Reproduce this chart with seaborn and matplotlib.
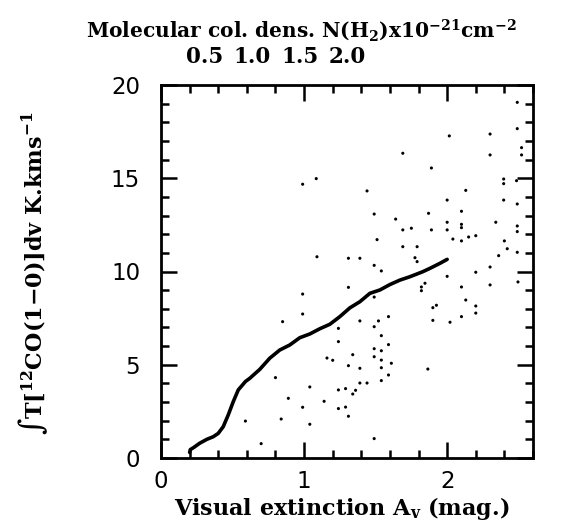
import matplotlib
matplotlib.use("Agg")
import matplotlib.pyplot as plt
import pandas as pd
import seaborn as sns
from matplotlib.ticker import MultipleLocator, NullLocator

# ---- data ----
av_points = [0.99, 1.085, 1.44, 1.09, 1.31, 1.39, 2.49, 2.015, 2.30, 2.49,
             1.69, 2.30, 2.52, 2.52, 1.89, 2.395, 2.395, 2.485, 2.13, 2.00,
             2.395, 2.49, 1.49, 1.64, 1.87, 2.10, 2.00, 2.34, 2.49, 2.49,
             1.69, 1.75, 1.89, 2.00, 2.10, 2.10, 2.04, 2.10, 2.15, 2.20,
             1.51, 2.40, 2.42, 1.69, 1.79, 2.36, 2.49, 1.775, 1.79, 1.49,
             1.54, 2.00, 2.20, 2.30, 2.495, 2.30, 1.845, 1.82, 1.82, 2.10,
             2.13, 2.20, 2.20, 1.90, 1.925, 2.10, 1.90, 2.02, 1.865, 1.49,
             1.39, 1.52, 1.59, 1.49, 1.54, 1.49, 1.54, 1.59, 1.49, 1.54,
             1.61, 1.39, 1.54, 1.59, 1.34, 1.39, 1.44, 1.54, 1.34, 1.36,
             1.49, 0.99, 0.99, 0.85, 1.24, 1.24, 1.16, 1.20, 1.31, 1.29,
             1.24, 1.14, 1.04, 0.89, 0.80, 0.99, 1.24, 1.29, 1.31, 1.04,
             0.84, 0.70, 1.31, 0.59]
co_points = [14.68, 14.98, 14.32, 10.79, 10.71, 10.71, 19.07, 17.27, 17.37, 17.66,
             16.34, 16.25, 16.64, 16.25, 15.55, 14.96, 14.71, 14.87, 14.35, 13.83,
             13.83, 13.62, 13.08, 12.81, 13.12, 13.23, 12.64, 12.64, 12.44, 12.14,
             12.23, 12.32, 12.23, 12.23, 12.53, 12.35, 11.74, 11.64, 11.85, 11.92,
             11.71, 11.64, 11.22, 11.33, 11.33, 10.85, 11.03, 10.74, 10.53, 10.33,
             10.03, 9.74, 9.96, 10.24, 9.44, 9.28, 9.37, 9.17, 8.97, 9.17,
             8.47, 8.15, 7.77, 8.06, 8.19, 7.58, 7.38, 7.28, 4.77, 8.63,
             7.35, 7.35, 7.58, 7.04, 6.56, 5.86, 5.75, 6.08, 5.43, 5.25,
             5.08, 4.81, 4.84, 4.45, 5.54, 4.02, 4.02, 4.15, 3.43, 3.63,
             1.04, 8.79, 7.72, 7.31, 6.95, 6.24, 5.36, 5.24, 4.95, 3.72,
             3.65, 3.04, 3.81, 3.20, 4.31, 2.72, 2.65, 2.73, 2.24, 1.81,
             2.09, 0.77, 9.15, 1.98]

av_curve = [0.20, 0.205, 0.23, 0.27, 0.32, 0.365, 0.40, 0.435, 0.47, 0.505,
            0.54, 0.59, 0.62, 0.69, 0.76, 0.83, 0.90, 0.97, 1.04, 1.11,
            1.18, 1.25, 1.32, 1.39, 1.46, 1.53, 1.60, 1.67, 1.74, 1.83,
            1.88, 1.95, 2.00]
co_curve = [0.30, 0.45, 0.57, 0.79, 1.00, 1.14, 1.32, 1.68, 2.31, 3.02,
            3.65, 4.10, 4.27, 4.75, 5.35, 5.79, 6.06, 6.45, 6.65, 6.93,
            7.17, 7.58, 8.05, 8.38, 8.83, 9.01, 9.30, 9.54, 9.72, 9.99,
            10.17, 10.44, 10.65]

x_ticks = [0, 1, 2]
y_ticks = [0, 5, 10, 15, 20]
top_ticks = [0.5, 1.0, 1.5, 2.0]
top_labels = ["0.5", "1.0", "1.5", "2.0"]

title_top = "Molecular col. dens. N(H$_2$)x10$^{-21}$cm$^{-2}$"
x_label = "Visual extinction A$_v$ (mag.)"
y_label = "\u222bT[$^{12}$CO(1\u22120)]dv K.kms$^{-1}$"

# ---- style ----
sns.set_style("ticks")
plt.rcParams['font.family'] = ['DejaVu Sans']
plt.rcParams['mathtext.fontset'] = 'dejavuserif'
plt.rcParams['mathtext.default'] = 'bf'
plt.rcParams['text.color'] = 'black'
plt.rcParams['xtick.labelcolor'] = 'black'
plt.rcParams['ytick.labelcolor'] = 'black'

W, H = 584, 527
fig = plt.figure(figsize=(W / 100, H / 100), dpi=100)
ax = fig.add_axes([161 / W, 1 - 458 / H, 372 / W, 373 / H])

pts = pd.DataFrame({"av": av_points, "co": co_points})
crv = pd.DataFrame({"av": av_curve, "co": co_curve})

sns.scatterplot(data=pts, x="av", y="co", ax=ax, s=5, color="black",
                edgecolor="none", linewidth=0, legend=False)
sns.lineplot(data=crv, x="av", y="co", ax=ax, color="black", linewidth=2.6,
             estimator=None, sort=False, legend=False)

ax.set_xlim(0, 2.6)
ax.set_ylim(0, 20)
ax.set_xticks(x_ticks)
ax.set_yticks(y_ticks)
ax.xaxis.set_minor_locator(MultipleLocator(0.2))
ax.yaxis.set_minor_locator(MultipleLocator(1))
ax.tick_params(which="both", direction="in", top=True, right=True,
               width=1.8, color="black", labelcolor="black")
ax.tick_params(which="major", length=11.5)
ax.tick_params(which="minor", length=6)
ax.tick_params(axis="y", which="major", pad=15, labelsize=16.5)
ax.tick_params(axis="x", which="major", pad=9, labelsize=16.5)
for s in ax.spines.values():
    s.set_visible(True)
    s.set_linewidth(2)
    s.set_color("black")
ax.set_xlabel("")
ax.set_ylabel("")

sec = ax.secondary_xaxis("top", functions=(lambda a: 1.511 * a + 0.035,
                                           lambda n: (n - 0.035) / 1.511))
sec.set_xticks(top_ticks)
sec.set_xticklabels(top_labels)
sec.xaxis.set_minor_locator(NullLocator())
sec.tick_params(length=0, pad=12, labelsize=15.5, labelcolor="black")
for lbl in sec.get_xticklabels():
    lbl.set_fontfamily("DejaVu Serif")
    lbl.set_fontweight("bold")
sec.spines["top"].set_visible(False)

fig.text(301 / W, 1 - 30 / H, title_top, ha="center", va="center",
         family="DejaVu Serif", weight="bold", size=14.5, color="black")
fig.text(342 / W, 1 - 508 / H, x_label, ha="center", va="center",
         family="DejaVu Serif", weight="bold", size=16, color="black")
fig.text(33 / W, 1 - 273 / H, y_label, ha="center", va="center", rotation=90,
         family=["DejaVu Serif", "DejaVu Sans"], weight="bold", size=16,
         color="black")

fig.savefig("out.png", dpi=100)
